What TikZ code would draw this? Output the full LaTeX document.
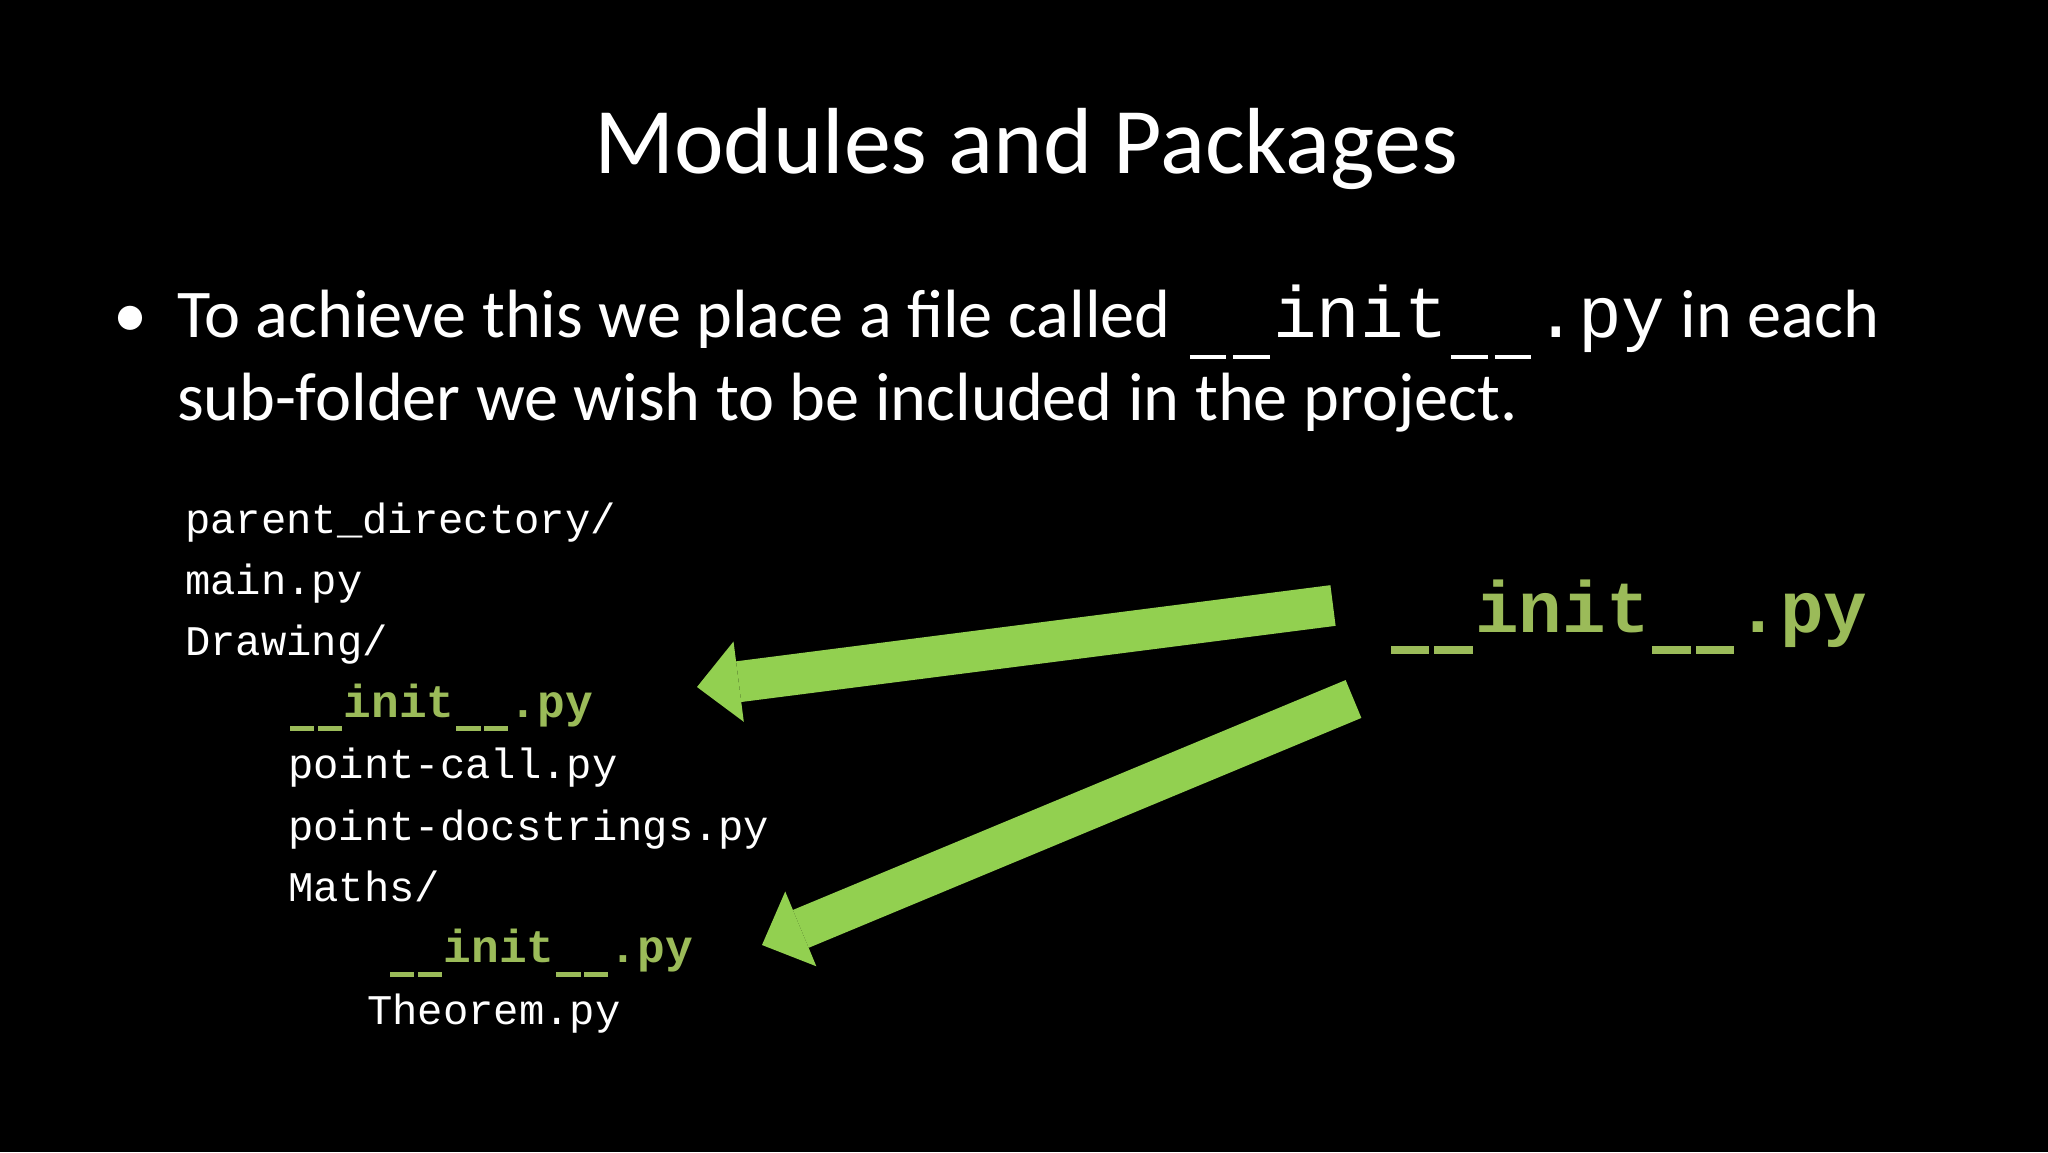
\documentclass[tikz,border=0pt]{standalone}
\usepackage{fontspec}
\setmainfont{Carlito}
\newfontfamily\codefont{Liberation Mono}
\usetikzlibrary{arrows.meta}
\definecolor{arrowgreen}{HTML}{92D050}
\definecolor{codegreen}{HTML}{9BBB59}
\tikzset{
  titletext/.style={anchor=base, inner sep=0pt, text=white, font=\fontsize{93.9bp}{112bp}\selectfont},
  bodytext/.style={anchor=base west, inner sep=0pt, text=white, font=\fontsize{68.3bp}{82bp}\selectfont},
  codetext/.style={anchor=base west, inner sep=0pt, text=white, font=\codefont\fontsize{42.2bp}{50bp}\selectfont},
  initsmall/.style={anchor=base west, inner sep=0pt, text=codegreen, font=\codefont\bfseries\fontsize{46.2bp}{55bp}\selectfont},
  initbig/.style={anchor=base west, inner sep=0pt, text=codegreen, font=\codefont\bfseries\fontsize{72.6bp}{86bp}\selectfont},
  fatarrow/.style={draw=arrowgreen, line width=41bp, line cap=butt,
    -{Triangle[length=42bp, width=81bp, line width=0pt, fill=arrowgreen, color=arrowgreen]}}
}
% underscore drawn as a separate dash inside a monospace cell
\newcommand{\usc}[2]{\makebox[0.6em][c]{\rule[-0.3em]{#1}{#2}}}
\newcommand{\initreg}{\usc{0.5em}{0.05em}\usc{0.5em}{0.05em}init\usc{0.5em}{0.05em}\usc{0.5em}{0.05em}.py}
\newcommand{\initbold}{\usc{0.53em}{0.11em}\usc{0.53em}{0.11em}init\usc{0.53em}{0.11em}\usc{0.53em}{0.11em}.py}
\newcommand{\bodymono}[1]{{\codefont\fontsize{72.6bp}{82bp}\selectfont #1}}
\begin{document}
\begin{tikzpicture}[x=1bp, y=-1bp]
  \fill[black] (0,0) rectangle (2048,1152);
  \useasboundingbox (0,0) rectangle (2048,1152);

  % title
  \node[titletext] (title) at (1026,173) {Modules and Packages};

  % bullet text
  \node[bodytext, anchor=base] (bullet) at (131,337) {•};
  \node[bodytext] (line1) at (177,337) {To achieve this we place a file called \bodymono{\initreg} in each};
  \node[bodytext] (line2) at (177,420) {sub-folder we wish to be included in the project.};

  % directory listing
  \node[codetext]  (pd)     at (185,533)    {parent\_directory/};
  \node[codetext]  (mainpy) at (185,594.4)  {main.py};
  \node[codetext]  (drw)    at (185,655.8)  {Drawing/};
  \node[initsmall] (initA)  at (288,717.2)  {\initbold};
  \node[codetext]  (pc)     at (288,778.6)  {point-call.py};
  \node[codetext]  (pds)    at (288,840)    {point-docstrings.py};
  \node[codetext]  (maths)  at (288,901.4)  {Maths/};
  \node[initsmall] (initB)  at (388,962.8)  {\initbold};
  \node[codetext]  (thm)    at (367,1024.2) {Theorem.py};

  % big label
  \node[initbig] (initbig) at (1388,632) {\initbold};

  % arrows
  \coordinate (a1tail) at (1333,605.5);
  \coordinate (a1tip)  at (697,687);
  \coordinate (a2tail) at (1353.5,699);
  \coordinate (a2tip)  at (762,945);
  \draw[fatarrow] (a1tail) -- (a1tip);
  \draw[fatarrow] (a2tail) -- (a2tip);
\end{tikzpicture}
\end{document}
